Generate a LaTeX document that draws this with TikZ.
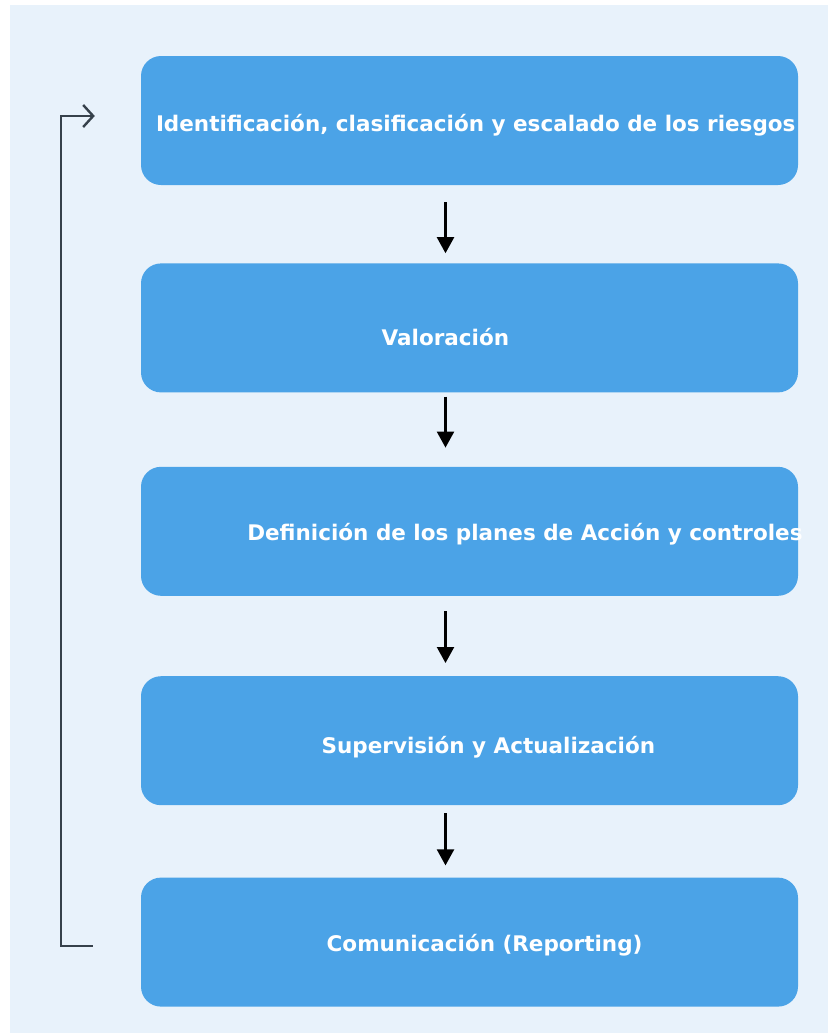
\documentclass[tikz,border=0pt]{standalone}
\usepackage{fontspec}
\setmainfont{DejaVu Sans}
\usepackage{xcolor}
\usepackage{tikz}
\usetikzlibrary{positioning, arrows.meta, calc}
\definecolor{canvas}{HTML}{E8F2FB}
\definecolor{stage}{HTML}{4BA3E7}
\definecolor{ink}{HTML}{000000}
\definecolor{loopline}{HTML}{36414B}
\tikzset{
  stagebox/.style = {rectangle, rounded corners=20pt, draw=none, fill=stage,
                     minimum width=657pt, minimum height=129pt, inner sep=0pt},
  stagetxt/.style = {anchor=base west, inner sep=0pt, text=white,
                     font=\fontsize{21.5}{26}\selectfont\bfseries},
  ar/.style       = {-{Triangle[length=16pt,width=17pt]}, line width=2.2pt, draw=ink},
  back/.style     = {-{Straight Barb[length=10pt,width=22pt]}, line width=2.4pt, draw=loopline},
}

\begin{document}
\begin{tikzpicture}[x=1pt, y=1pt]

  \useasboundingbox (0,0) rectangle (828,-1034);
  \fill[canvas] (10,-5) rectangle (828,-1033);

  \node[stagebox] (ident) at (469.5,-120.5) {};
  \node[stagebox, below=78pt of ident] (valor) {};
  \node[stagebox, below=74pt of valor] (plan) {};
  \node[stagebox, below=80pt of plan] (super) {};
  \node[stagebox, below=72pt of super] (comun) {};

  \node[stagetxt] (identtxt) at ($(ident.west)+(15pt,-11.2pt)$)
       {Identificación, clasificación y escalado de los riesgos};
  \node[stagetxt] (valortxt) at ($(valor.west)+(240.7pt,-17.2pt)$) {Valoración};
  \node[stagetxt] (plantxt) at ($(plan.west)+(106.3pt,-9.2pt)$)
       {Definición de los planes de Acción y controles};
  \node[stagetxt] (supertxt) at ($(super.west)+(180.7pt,-13pt)$) {Supervisión y Actualización};
  \node[stagetxt] (comuntxt) at ($(comun.west)+(185.7pt,-9.3pt)$) {Comunicación (Reporting)};

  \draw[ar] ([xshift=-24pt,yshift=-17pt]ident.south) -- ([xshift=-24pt,yshift=10pt]valor.north);
  \draw[ar] ([xshift=-24pt,yshift=-4pt]valor.south) -- ([xshift=-24pt,yshift=19pt]plan.north);
  \draw[ar] ([xshift=-24pt,yshift=-15pt]plan.south) -- ([xshift=-24pt,yshift=13pt]super.north);
  \draw[ar] ([xshift=-24pt,yshift=-8pt]super.south) -- ([xshift=-24pt,yshift=12pt]comun.north);

  % return line to the first stage
  \draw[back] ([xshift=-48pt,yshift=-4pt]comun.west) -- ++(-32pt,0)
       |- ([xshift=-46pt,yshift=4.5pt]ident.west);

\end{tikzpicture}
\end{document}
